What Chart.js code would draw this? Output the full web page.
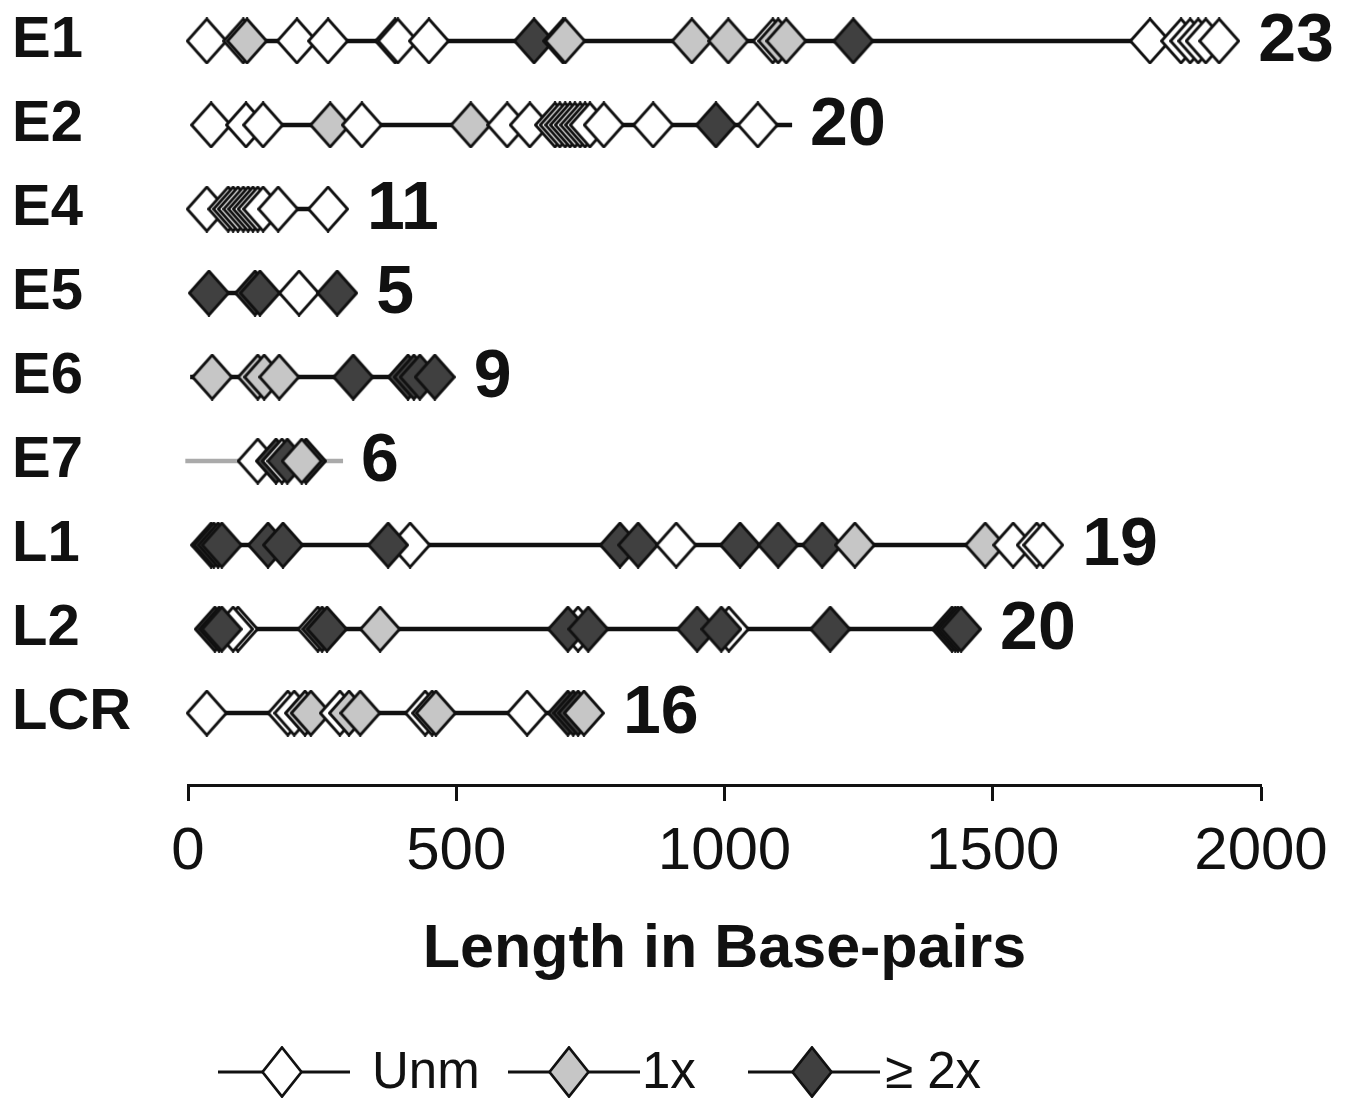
<!DOCTYPE html>
<html>
<head>
<meta charset="utf-8">
<script src="https://cdn.jsdelivr.net/npm/chart.js@4.4.1/dist/chart.umd.min.js"></script>
<style>
  html, body { margin: 0; padding: 0; background: #fff; }
  #wrap { width: 1352px; height: 1100px; }
</style>
</head>
<body>
<div id="wrap"><canvas id="c" width="1352" height="1100"></canvas></div>
<script>
// ---- data ----
const categories = ['E1', 'E2', 'E4', 'E5', 'E6', 'E7', 'L1', 'L2', 'LCR'];
const counts = [23, 20, 11, 5, 9, 6, 19, 20, 16];
const typeNames = ['Unm', '1x', '\u2265 2x'];
const xTicks = [0, 500, 1000, 1500, 2000];
const axisTitle = 'Length in Base-pairs';

// site positions (bp) and methylation class (0 = Unm, 1 = 1x, 2 = >=2x)
const sitesE1 = [35, 103, 110, 203, 261, 386, 391, 449, 645, 699, 703, 939, 1007, 1090, 1100, 1115, 1240, 1793, 1851, 1868, 1883, 1897, 1922];
const typesE1 = [0, 1, 1, 0, 0, 0, 0, 0, 2, 2, 1, 1, 1, 0, 1, 1, 2, 0, 0, 0, 0, 0, 0];
const sitesE2 = [43, 108, 140, 265, 324, 527, 595, 637, 684, 693, 703, 712, 721, 731, 740, 749, 775, 867, 984, 1062];
const typesE2 = [0, 0, 0, 1, 0, 1, 0, 0, 0, 0, 0, 0, 0, 0, 0, 0, 0, 0, 2, 0];
const sitesE4 = [35, 75, 84, 93, 103, 112, 121, 130, 140, 168, 261];
const typesE4 = [0, 0, 0, 0, 0, 0, 0, 0, 0, 0, 0];
const sitesE5 = [39, 125, 134, 207, 278];
const typesE5 = [2, 2, 2, 0, 2];
const sitesE6 = [45, 130, 142, 170, 308, 410, 421, 432, 460];
const typesE6 = [1, 1, 1, 1, 2, 2, 2, 2, 2];
const sitesE7 = [130, 164, 175, 185, 220, 212];
const typesE7 = [0, 2, 0, 2, 2, 1];
const sitesL1 = [43, 48, 56, 63, 149, 177, 414, 373, 805, 839, 910, 1029, 1100, 1182, 1243, 1486, 1538, 1582, 1594];
const typesL1 = [2, 2, 2, 2, 2, 2, 0, 2, 2, 2, 0, 2, 2, 2, 1, 1, 0, 0, 0];
const sitesL2 = [93, 84, 50, 58, 63, 242, 250, 259, 358, 727, 708, 746, 1008, 949, 994, 1197, 1424, 1430, 1435, 1441];
const typesL2 = [0, 0, 2, 2, 2, 0, 2, 2, 1, 0, 2, 2, 0, 2, 2, 2, 2, 2, 2, 2];
const sitesLCR = [35, 186, 198, 218, 229, 283, 300, 321, 442, 455, 462, 632, 708, 718, 727, 738];
const typesLCR = [0, 0, 0, 1, 1, 0, 1, 1, 0, 1, 1, 0, 2, 2, 2, 1];

// extent of each gene's connecting line (bp)
const lineStart = [35, 43, 35, 39, 4, -5, 7, 32, 35];
const lineEnd = [1922, 1126, 261, 278, 460, 289, 1594, 1441, 738];

const rowSites = [sitesE1, sitesE2, sitesE4, sitesE5, sitesE6, sitesE7, sitesL1, sitesL2, sitesLCR];
const rowTypes = [typesE1, typesE2, typesE4, typesE5, typesE6, typesE7, typesL1, typesL2, typesLCR];

// ---- styles ----
const FONT = '"Liberation Sans", Arial, Helvetica, sans-serif';
const INK = '#111111';
const fills = ['#ffffff', '#c6c6c6', '#404040'];
const lineColors = ['#111', '#111', '#111', '#111', '#111', '#aaaaaa', '#111', '#111', '#111'];

function makeDiamond(fill, w, h) {
  const c = document.createElement('canvas');
  c.width = w; c.height = h;
  const g = c.getContext('2d');
  const m = 1.5;
  g.beginPath();
  g.moveTo(w / 2, m);
  g.lineTo(w - m, h / 2);
  g.lineTo(w / 2, h - m);
  g.lineTo(m, h / 2);
  g.closePath();
  g.fillStyle = fill;
  g.fill();
  g.lineWidth = 2.8;
  g.strokeStyle = INK;
  g.lineJoin = 'miter';
  g.stroke();
  return c;
}
const markers = fills.map(f => makeDiamond(f, 42, 47));
const legendMarkers = fills.map(f => makeDiamond(f, 42, 52));

// ---- datasets ----
const datasets = [];
categories.forEach((cat, i) => {
  datasets.push({
    label: cat + ' sites',
    data: rowSites[i].map(v => ({ x: v, y: i })),
    showLine: false,
    pointStyle: ctx => markers[rowTypes[i][ctx.dataIndex]],
    pointRadius: 22,
    pointHoverRadius: 22,
    clip: false,
    order: 0
  });
});
categories.forEach((cat, i) => {
  datasets.push({
    label: cat + ' line',
    data: [{ x: lineStart[i], y: i }, { x: lineEnd[i], y: i }],
    showLine: true,
    borderColor: lineColors[i],
    borderWidth: 4.5,
    pointRadius: 0,
    clip: false,
    order: 1
  });
});

// ---- plugins ----
const countLabels = {
  id: 'countLabels',
  afterDatasetsDraw(chart) {
    const { ctx, scales: { x, y } } = chart;
    ctx.save();
    ctx.font = 'bold 68px ' + FONT;
    ctx.fillStyle = INK;
    ctx.textAlign = 'left';
    ctx.textBaseline = 'middle';
    categories.forEach((cat, i) => {
      const last = Math.max(...rowSites[i]);
      const endPx = Math.max(x.getPixelForValue(last) + 21, x.getPixelForValue(lineEnd[i]));
      ctx.fillText(String(counts[i]), endPx + 18, y.getPixelForValue(i) + 1);
    });
    ctx.restore();
  }
};

const customLegend = {
  id: 'customLegend',
  afterDraw(chart) {
    const { ctx } = chart;
    const yc = 1072;
    const items = [
      { x0: 218, dx: 282, x1: 350, tx: 372 },
      { x0: 508, dx: 569, x1: 640, tx: 642 },
      { x0: 748, dx: 812, x1: 880, tx: 885 }
    ];
    ctx.save();
    items.forEach((it, k) => {
      ctx.strokeStyle = INK;
      ctx.lineWidth = 3;
      ctx.beginPath();
      ctx.moveTo(it.x0, yc);
      ctx.lineTo(it.x1, yc);
      ctx.stroke();
      const m = legendMarkers[k];
      ctx.drawImage(m, it.dx - m.width / 2, yc - m.height / 2);
      ctx.font = '51px ' + FONT;
      ctx.fillStyle = INK;
      ctx.textAlign = 'left';
      ctx.textBaseline = 'middle';
      ctx.fillText(typeNames[k], it.tx, yc + 2);
    });
    ctx.restore();
  }
};

new Chart(document.getElementById('c'), {
  type: 'scatter',
  data: { datasets },
  options: {
    responsive: false,
    animation: false,
    devicePixelRatio: 1,
    events: [],
    layout: { padding: { left: 12, right: 91, top: 6, bottom: 100 } },
    plugins: { legend: { display: false }, tooltip: { enabled: false } },
    scales: {
      x: {
        type: 'linear',
        min: 0,
        max: 2000,
        afterBuildTicks: s => { s.ticks = xTicks.map(v => ({ value: v })); },
        afterFit: s => { s.height = 215; s.paddingTop = 0; s.paddingBottom = 0; },
        ticks: {
          callback: v => String(v),
          font: { family: FONT, size: 60 },
          color: INK,
          padding: 15,
          maxRotation: 0,
          autoSkip: false
        },
        grid: {
          drawOnChartArea: false,
          drawTicks: true,
          tickLength: 16,
          tickWidth: 3,
          tickColor: INK,
          color: INK
        },
        border: { display: true, color: INK, width: 3 },
        title: {
          display: true,
          text: axisTitle,
          color: INK,
          font: { family: FONT, size: 61, weight: 'bold' },
          padding: { top: 0, bottom: 13 }
        }
      },
      y: {
        type: 'linear',
        reverse: true,
        min: -0.214,
        max: 8.856,
        afterBuildTicks: s => { s.ticks = categories.map((c, i) => ({ value: i })); },
        afterFit: s => { s.width = 176; s.paddingTop = 0; s.paddingBottom = 0; },
        ticks: {
          callback: v => categories[v],
          font: { family: FONT, size: 58, weight: 'bold', lineHeight: 0.2 },
          color: INK,
          crossAlign: 'far',
          padding: 0,
          autoSkip: false
        },
        grid: { display: false },
        border: { display: false }
      }
    }
  },
  plugins: [countLabels, customLegend]
});
</script>
</body>
</html>
